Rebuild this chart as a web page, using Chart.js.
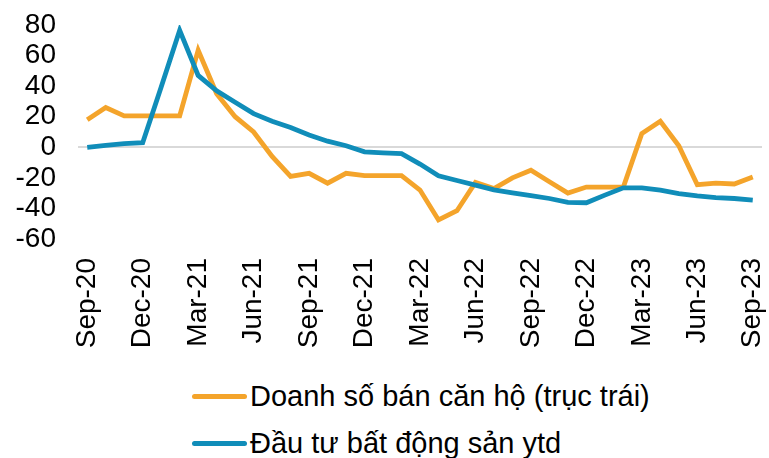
<!DOCTYPE html>
<html>
<head>
<meta charset="utf-8">
<script src="https://cdn.jsdelivr.net/npm/chart.js@4"></script>
<style>
  body { margin: 0; background: #fff; font-family: Arial, "Liberation Sans", sans-serif; }
  #wrap { position: relative; width: 769px; height: 458px; overflow: hidden; }
  #box { position: absolute; left: 0; top: 0; width: 769px; height: 360px; }
  #legend { position: absolute; left: 192px; top: 373px; }
  .item { display: flex; align-items: center; height: 47px; font-size: 29px; color: #000; }
  .swatch { width: 55px; height: 5px; border-radius: 3px; margin-right: 3px; }
</style>
</head>
<body>
<div id="wrap">
  <div id="box"><canvas id="housechart"></canvas></div>
  <div id="legend"></div>
</div>
<script>
// months, Sep-20 .. Sep-23
const months = ['Sep-20','Oct-20','Nov-20','Dec-20','Jan-21','Feb-21','Mar-21','Apr-21','May-21','Jun-21','Jul-21','Aug-21',
  'Sep-21','Oct-21','Nov-21','Dec-21','Jan-22','Feb-22','Mar-22','Apr-22','May-22','Jun-22','Jul-22','Aug-22',
  'Sep-22','Oct-22','Nov-22','Dec-22','Jan-23','Feb-23','Mar-23','Apr-23','May-23','Jun-23','Jul-23','Aug-23','Sep-23'];

// Doanh so ban can ho (%)
const salesValues = [18, 26, 20.5, 20.5, 20.5, 20.5, 63.5, 35, 20, 10, -6, -19, -17, -23.5, -17, -18.5, -18.5, -18.5,
  -28, -47.5, -41.5, -23, -27, -20, -15, -22.5, -30, -26, -26, -26, 9, 17, 1, -24.5, -23.5, -24, -19.5];

// Dau tu bat dong san ytd (%)
const investValues = [0, 1.2, 2.4, 3, 39.5, 76.5, 47, 37, 29.5, 22, 17, 13, 8, 4, 1, -3, -3.6, -4.1,
  -11, -18.7, -21.7, -24.8, -27.8, -29.8, -31.7, -33.5, -36, -36.3, -31.3, -26.5, -26.5, -28, -30.3, -31.8, -33, -33.5, -34.5];

const yTicks = [-60, -40, -20, 0, 20, 40, 60, 80];

const seriesNames = ['Doanh số bán căn hộ (trục trái)', 'Đầu tư bất động sản ytd'];
const seriesColors = ['#F4A42B', '#108DB9'];

const ctx = document.getElementById('housechart').getContext('2d');

const chart = new Chart(ctx, {
  type: 'line',
  data: {
    labels: months,
    datasets: [{
      label: seriesNames[0],
      data: salesValues,
      borderColor: seriesColors[0],
      backgroundColor: seriesColors[0],
      borderWidth: 4.8,
      pointRadius: 0,
      tension: 0,
      order: 1
    }, {
      label: seriesNames[1],
      data: investValues,
      borderColor: seriesColors[1],
      backgroundColor: seriesColors[1],
      borderWidth: 4.8,
      pointRadius: 0,
      tension: 0,
      order: 0
    }]
  },
  options: {
    responsive: true,
    maintainAspectRatio: false,
    animation: false,
    layout: { padding: { top: 25, right: 7, left: 0, bottom: 0 } },
    plugins: {
      legend: { display: false },
      tooltip: { enabled: false }
    },
    scales: {
      x: {
        offset: true,
        afterFit: function(scale) {
          scale.height = 121;
          scale.paddingLeft = 0;
          scale.paddingRight = 0;
        },
        grid: { display: false, drawTicks: false },
        border: { display: false },
        ticks: {
          autoSkip: false,
          minRotation: 90,
          maxRotation: 90,
          padding: 19,
          color: '#000',
          font: { family: 'Arial, "Liberation Sans"', size: 28 },
          callback: function(val, i) { return i % 3 === 0 ? months[i] : null; }
        }
      },
      y: {
        min: -60,
        max: 80,
        afterFit: function(scale) {
          scale.width = 78;
          scale.paddingTop = 0;
          scale.paddingBottom = 0;
        },
        afterBuildTicks: function(scale) { scale.ticks = yTicks.map(v => ({ value: v })); },
        grid: {
          drawTicks: false,
          lineWidth: 2,
          color: c => (c.tick && c.tick.value === 0) ? '#d9d9d9' : 'rgba(0,0,0,0)'
        },
        border: { display: false },
        ticks: {
          autoSkip: false,
          padding: 22,
          color: '#000',
          font: { family: 'Arial, "Liberation Sans"', size: 28 }
        }
      }
    }
  }
});

// html legend, one row per series
const legendBox = document.getElementById('legend');
chart.data.datasets.forEach(ds => {
  const row = document.createElement('div');
  row.className = 'item';
  const sw = document.createElement('span');
  sw.className = 'swatch';
  sw.style.background = ds.borderColor;
  const txt = document.createElement('span');
  txt.textContent = ds.label;
  row.appendChild(sw);
  row.appendChild(txt);
  legendBox.appendChild(row);
});
</script>
</body>
</html>
